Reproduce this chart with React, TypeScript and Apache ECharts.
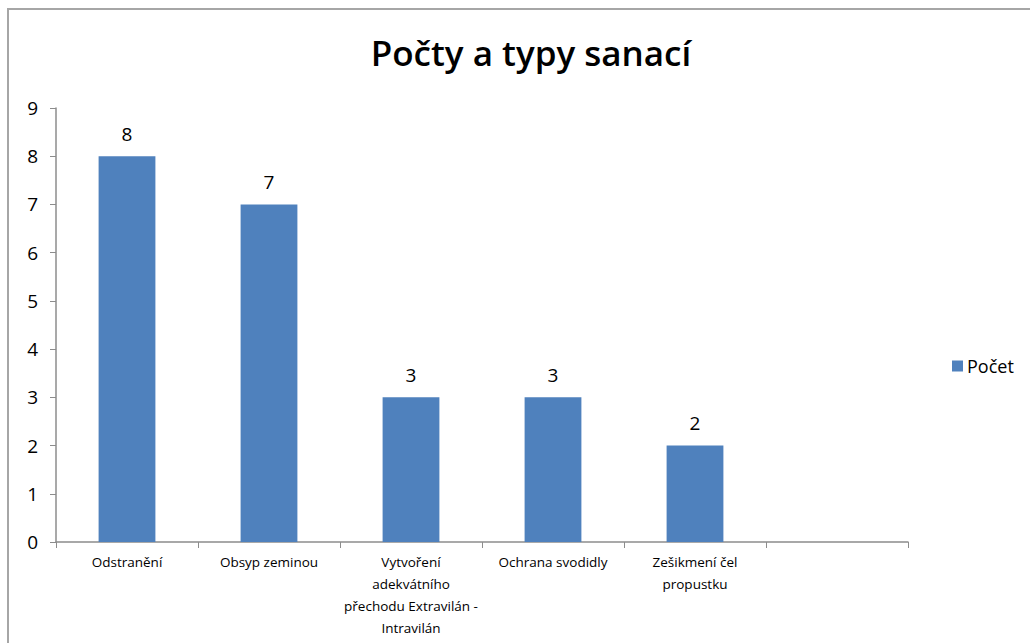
import React, { useEffect, useRef } from "react";
import * as echarts from "echarts";

const categories = [
  "Odstranění",
  "Obsyp zeminou",
  "Vytvoření\nadekvátního\npřechodu Extravilán -\nIntravilán",
  "Ochrana svodidly",
  "Zešikmení čel\npropustku",
  "",
];
const values: (number | null)[] = [8, 7, 3, 3, 2, null];
const seriesName = "Počet";
const titleText = "Počty a typy sanací";

export default function App() {
  const ref = useRef<HTMLDivElement>(null);
  useEffect(() => {
    document.body.style.margin = "0";
    const chart = echarts.init(ref.current!, undefined, { renderer: "svg" });
    chart.setOption({
      animation: false,
      backgroundColor: "#ffffff",
      title: {
        text: titleText,
        left: 526,
        textAlign: "center",
        top: 30,
        textStyle: {
          fontFamily: "Open Sans",
          fontWeight: 600,
          fontSize: 35,
          color: "#000",
        },
      },
      legend: {
        data: [seriesName],
        left: 947,
        top: 352,
        icon: "rect",
        itemWidth: 11,
        itemHeight: 11,
        itemGap: 4,
        textStyle: { fontFamily: "Open Sans", fontSize: 18, color: "#000", padding: [0, 0, 0, -1] },
      },
      graphic: [
        {
          type: "rect",
          shape: { x: 8, y: 9, width: 1040, height: 700 },
          style: { fill: "none", stroke: "#a6a6a6", lineWidth: 2 },
          silent: true,
        },
      ],
      grid: { left: 56, right: 122, top: 108, bottom: 101 },
      xAxis: {
        type: "category",
        data: categories,
        boundaryGap: true,
        axisLine: { lineStyle: { color: "#8c8c8c", width: 1.5 } },
        axisTick: { show: true, length: 6, lineStyle: { color: "#8c8c8c" } },
        axisLabel: {
          interval: 0,
          margin: 9,
          fontFamily: "Open Sans",
          fontSize: 13.5,
          lineHeight: 22,
          color: "#000",
        },
        splitLine: { show: false },
      },
      yAxis: {
        type: "value",
        min: 0,
        max: 9,
        interval: 1,
        axisLine: { show: true, lineStyle: { color: "#8c8c8c", width: 1.5 } },
        axisTick: { show: true, length: 6, lineStyle: { color: "#8c8c8c" } },
        axisLabel: { fontFamily: "Open Sans", fontSize: 19, color: "#000", margin: 18 },
        splitLine: { show: false },
      },
      series: [
        {
          name: seriesName,
          type: "bar",
          data: values,
          barWidth: "40%",
          itemStyle: { color: "#4f81bd" },
          label: {
            show: true,
            position: "top",
            distance: 13,
            fontFamily: "Open Sans",
            fontSize: 19,
            color: "#000",
          },
        },
      ],
    });
    return () => chart.dispose();
  }, []);
  return <div ref={ref} style={{ width: 1030, height: 643 }} />;
}
